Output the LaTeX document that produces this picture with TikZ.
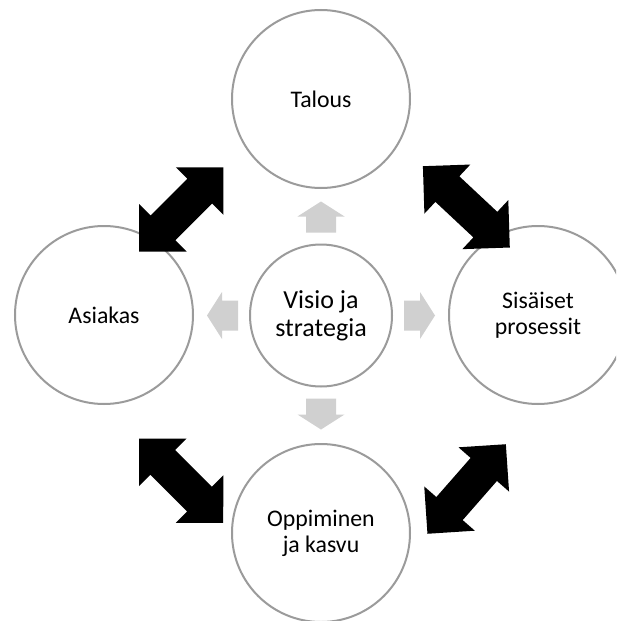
\documentclass[tikz,border=0pt]{standalone}
\usepackage{fontspec}
\setmainfont{Carlito}
\definecolor{ringgray}{RGB}{155,155,155}
\definecolor{lightarrow}{RGB}{208,208,208}
\begin{document}
\begin{tikzpicture}[x=1pt,y=-1pt,
  ring/.style={circle, draw=ringgray, line width=2pt, fill=white,
    minimum size=178pt, inner sep=0pt, align=center,
    font=\fontsize{23.8}{26.3}\selectfont},
  hub/.style={ring, minimum size=142pt, font=\fontsize{26}{27.7}\selectfont},
  flowarrow/.style={fill=lightarrow},
  linkarrow/.style={fill=black},
  duoarrow/.pic={
    \fill[linkarrow] (59.5,0) -- (26,33.6) -- (26,17.5) -- (-26,17.5)
      -- (-26,33.6) -- (-59.5,0) -- (-26,-33.6) -- (-26,-17.5)
      -- (26,-17.5) -- (26,-33.6) -- cycle;
  }]
\useasboundingbox (0,0) rectangle (616,621);
\clip (0,0) rectangle (616,621);
\fill[white] (0,0) rectangle (616,621);

% the four perspectives around the hub
\node[ring] (talous)    at (321,99)    {Talous};
\node[ring] (asiakas)   at (104,315)   {Asiakas};
\node[ring] (sisaiset)  at (538,315)   {Sisäiset\\prosessit};
\node[ring] (oppiminen) at (321,533)   {Oppiminen\\ja kasvu};
\node[hub]  (visio)     at (321,315.5) {Visio ja\\strategia};

% light block arrows pointing outwards from the hub
\foreach \a in {0,90,180,270}
  \fill[flowarrow, shift={(visio.center)}, rotate=\a]
    (83,-15) -- (99,-15) -- (99,-23.5) -- (114,0) -- (99,23.5)
    -- (99,15) -- (83,15) -- cycle;

% two-headed links between neighbouring perspectives
\pic[rotate=45]    at (181.3,209.5)  {duoarrow};
\pic[rotate=-43.1] at (466.35,206.85) {duoarrow};
\pic[rotate=-45]   at (181.15,480.8) {duoarrow};
\pic[rotate=48.8]  at (466.65,489)   {duoarrow};
\end{tikzpicture}
\end{document}
